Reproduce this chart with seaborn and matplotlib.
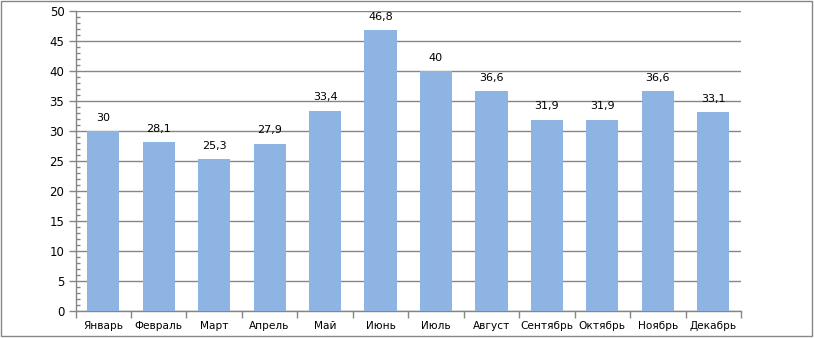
import matplotlib
matplotlib.use("Agg")
import matplotlib.pyplot as plt
import seaborn as sns
import pandas as pd
import numpy as np
from matplotlib.patches import Rectangle
from matplotlib.ticker import MultipleLocator, FixedLocator

months = ["Январь", "Февраль", "Март", "Апрель", "Май", "Июнь", "Июль",
          "Август", "Сентябрь", "Октябрь", "Ноябрь", "Декабрь"]
values = [30, 28.1, 25.3, 27.9, 33.4, 46.8, 40, 36.6, 31.9, 31.9, 36.6, 33.1]
labels = ["30", "28,1", "25,3", "27,9", "33,4", "46,8", "40", "36,6", "31,9", "31,9", "36,6", "33,1"]
yticks = [0, 5, 10, 15, 20, 25, 30, 35, 40, 45, 50]

sns.set_style("white")
plt.rcParams['font.family'] = ['DejaVu Sans']
plt.rcParams['text.color'] = 'black'
plt.rcParams['xtick.labelcolor'] = 'black'
plt.rcParams['ytick.labelcolor'] = 'black'

W, H = 814, 338
fig = plt.figure(figsize=(W / 100, H / 100), dpi=100)
left, right, top, bottom = 75.5, 741, 11, 311
ax = fig.add_axes([left / W, 1 - bottom / H, (right - left) / W, (bottom - top) / H])

gcol = "#868686"

df = pd.DataFrame({"month": months, "value": values})
sns.barplot(data=df, x="month", y="value", color="#8EB4E3", saturation=1,
            width=0.58, ax=ax, linewidth=0, edgecolor="none")
for p in ax.patches:
    p.set_zorder(3)

ax.set_xlim(-0.5, len(months) - 0.5)
ax.set_ylim(0, 50)
ax.set_xlabel("")
ax.set_ylabel("")
ax.set_axisbelow(True)
ax.yaxis.grid(True, which="major", color=gcol, lw=1)
ax.xaxis.grid(False)

ax.yaxis.set_major_locator(FixedLocator(yticks))
ax.yaxis.set_minor_locator(MultipleLocator(1))

for s in ["top", "right"]:
    ax.spines[s].set_visible(False)
for s in ["left", "bottom"]:
    ax.spines[s].set_color(gcol)
    ax.spines[s].set_linewidth(1)

ax.tick_params(axis="y", which="major", direction="out", length=5, width=1,
               color=gcol, labelsize=8.5, pad=3, left=True)
ax.tick_params(axis="y", which="minor", direction="in", length=3, width=1,
               color=gcol, left=True)
ax.set_yticklabels([str(v) for v in yticks])

ax.xaxis.set_minor_locator(FixedLocator(np.arange(-0.5, len(months), 1.0)))
ax.tick_params(axis="x", which="major", length=0, labelsize=7.6, pad=7)
ax.tick_params(axis="x", which="minor", direction="out", length=5, width=1,
               color=gcol, bottom=True)

for i, (v, lab) in enumerate(zip(values, labels)):
    ax.annotate(lab, (i, v), xytext=(0, 6), textcoords="offset points",
                ha="center", va="bottom", fontsize=8, color="black", zorder=5)

fig.patches.append(Rectangle((1 / W, 2 / H), (W - 3) / W, (H - 3) / H,
                             transform=fig.transFigure, fill=False,
                             edgecolor="#868686", lw=1))

fig.savefig("out.png", dpi=100)
